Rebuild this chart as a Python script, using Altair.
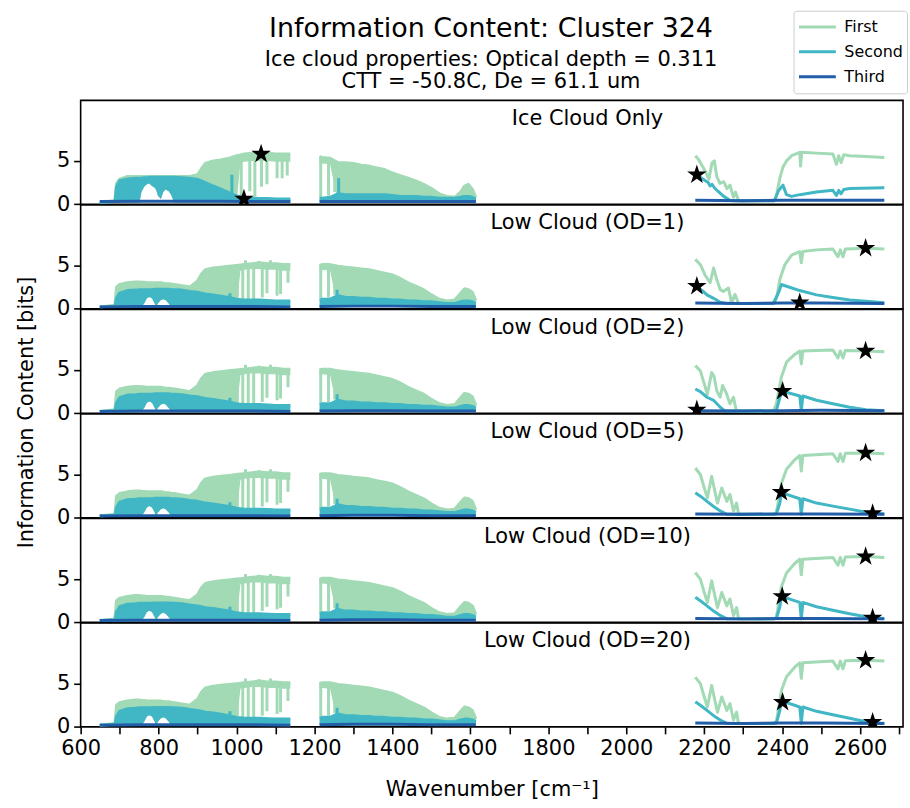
import altair as alt
import pandas as pd

PANELS = ["Ice Cloud Only", "Low Cloud (OD=1)", "Low Cloud (OD=2)",
          "Low Cloud (OD=5)", "Low Cloud (OD=10)", "Low Cloud (OD=20)"]
SERIES = ["First", "Second", "Third"]
COLORS = ["#a1dab4", "#41b6c4", "#225ea8"]

# ---------------- band 1 (650-1140 cm-1) ----------------
G1 = [649, 688, 692, 700, 720, 740, 751, 756, 763, 770, 776, 783, 790, 794, 798, 806, 812, 818, 826, 832,
      840, 860, 880, 900, 910, 920, 940, 960, 980, 1000, 1010, 1020, 1040, 1060, 1080, 1100, 1120, 1138]

ICE_G1_HI = [0.2, 0.4, 2.4, 2.9, 3.2, 3.2, 3.2, 3.2, 3.2, 3.2, 3.2, 3.2, 3.2, 3.2, 3.2, 3.2, 3.2, 3.2, 3.2, 3.2,
             3.2, 3.2, 3.2, 3.4, 4.1, 4.7, 5.0, 5.1, 5.3, 5.6, 5.7, 5.8, 5.9, 5.9, 5.9, 5.8, 5.8, 5.8]
ICE_FLOOR = [0.2, 0.2, 0.2, 0.2, 0.2, 0.2, 0.2, 1.4, 2.0, 2.3, 2.4, 2.1, 1.9, 1.6, 1.0, 0.6, 1.4, 1.7, 1.5, 1.1,
             0.2, 0.2, 0.2, 0.2, 0.2, 0.2, 0.2, 0.2, 0.2, 0.2, 0.2, 0.2, 0.2, 0.2, 0.2, 0.2, 0.2, 0.2]
ICE_G1_LO = [0.2, 0.2, 0.2, 0.2, 0.2, 0.2, 0.2, 1.4, 2.0, 2.3, 2.4, 2.1, 1.9, 1.6, 1.0, 0.6, 1.4, 1.7, 1.5, 1.1,
             0.2, 0.2, 0.2, 0.2, 0.2, 0.2, 0.2, 0.2, 0.2, 0.2, 4.8, 4.9, 5.0, 5.0, 5.0, 4.9, 4.9, 4.9]
ICE_C1_HI = [0.2, 0.3, 2.0, 2.7, 2.9, 3.0, 3.0, 3.0, 3.05, 3.05, 3.1, 3.1, 3.1, 3.1, 3.1, 3.1, 3.1, 3.1, 3.1, 3.1,
             3.1, 3.05, 3.0, 2.85, 2.7, 2.5, 2.1, 1.75, 1.35, 0.95, 0.85, 0.75, 0.7, 0.65, 0.65, 0.6, 0.6, 0.6]

LOW_G1_HI = [0.2, 0.4, 2.5, 2.8, 3.0, 3.1, 3.1, 3.05, 3.05, 3.0, 3.0, 3.0, 3.0, 3.0, 3.0, 3.0, 2.95, 2.9, 2.9, 2.85,
             2.8, 2.65, 2.5, 3.2, 4.0, 4.5, 4.7, 4.8, 4.9, 5.0, 5.05, 5.1, 5.2, 5.3, 5.2, 5.2, 5.1, 5.1]
LOW_FLOOR = [0.2, 0.2, 0.2, 0.2, 0.2, 0.2, 0.2, 0.2, 0.6, 1.2, 1.35, 1.2, 0.6, 0.2, 0.6, 1.0, 1.1, 1.0, 0.6, 0.2,
             0.2, 0.2, 0.2, 0.2, 0.2, 0.2, 0.2, 0.2, 0.2, 0.2, 0.2, 0.2, 0.2, 0.2, 0.2, 0.2, 0.2, 0.2]
LOW_G1_LO = [0.2, 0.2, 0.2, 0.2, 0.2, 0.2, 0.2, 0.2, 0.6, 1.2, 1.35, 1.2, 0.6, 0.2, 0.6, 1.0, 1.1, 1.0, 0.6, 0.2,
             0.2, 0.2, 0.2, 0.2, 0.2, 0.2, 0.2, 0.2, 0.2, 0.2, 4.4, 4.5, 4.6, 4.6, 4.5, 4.5, 4.4, 4.4]
LOW_C1_HI = [0.2, 0.3, 1.2, 1.8, 2.1, 2.15, 2.2, 2.2, 2.2, 2.2, 2.2, 2.2, 2.25, 2.25, 2.25, 2.25, 2.25, 2.25, 2.25, 2.2,
             2.2, 2.15, 2.0, 1.9, 1.8, 1.7, 1.6, 1.45, 1.3, 1.1, 1.05, 1.0, 1.0, 1.0, 0.95, 0.9, 0.9, 0.9]

# ---------------- band 2 (1215-1615 cm-1) ----------------
G2 = [1213, 1220, 1240, 1260, 1280, 1300, 1320, 1340, 1360, 1380, 1400, 1420, 1440, 1460, 1480, 1500,
      1520, 1540, 1560, 1575, 1585, 1595, 1605, 1614]
G2_FLOOR = [0.2, 0.2, 0.2, 0.2, 0.2, 0.2, 0.2, 0.2, 0.2, 0.2, 0.2, 0.2, 0.2, 0.2, 0.2, 0.2,
            0.2, 0.2, 0.2, 0.2, 0.2, 0.2, 0.2, 0.2]
ICE_G2_HI = [5.5, 5.4, 5.3, 4.8, 4.8, 4.7, 4.5, 4.4, 4.2, 4.0, 3.6, 3.3, 3.0, 2.7, 2.3, 1.8,
             1.2, 0.9, 0.8, 1.4, 2.1, 2.3, 1.7, 0.8]
ICE_G2_LO = [4.8, 4.7, 4.6, 0.2, 0.2, 0.2, 0.2, 0.2, 0.2, 0.2, 0.2, 0.2, 0.2, 0.2, 0.2, 0.2,
             0.2, 0.2, 0.2, 0.2, 0.2, 0.2, 0.2, 0.2]
ICE_C2_HI = [0.7, 0.7, 0.8, 1.2, 1.1, 1.1, 1.1, 1.1, 1.1, 1.1, 1.0, 0.9, 0.9, 0.9, 0.8, 0.8,
             0.7, 0.7, 0.7, 0.8, 0.9, 0.9, 0.8, 0.6]
LOW_G2_HI = [5.0, 5.1, 5.1, 4.9, 4.8, 4.7, 4.6, 4.5, 4.3, 4.1, 3.9, 3.5, 3.0, 2.6, 2.2, 1.6,
             1.1, 0.9, 1.0, 1.8, 2.3, 2.2, 1.9, 0.9]
LOW_G2_LO = [4.4, 4.5, 4.4, 0.2, 0.2, 0.2, 0.2, 0.2, 0.2, 0.2, 0.2, 0.2, 0.2, 0.2, 0.2, 0.2,
             0.2, 0.2, 0.2, 0.2, 0.2, 0.2, 0.2, 0.2]
LOW_C2_HI = [1.0, 1.1, 1.1, 1.5, 1.3, 1.3, 1.2, 1.2, 1.1, 1.1, 1.0, 1.0, 0.9, 0.9, 0.8, 0.8,
             0.7, 0.6, 0.6, 0.8, 0.9, 0.9, 0.8, 0.6]

# ---------------- narrow channel spikes ----------------
ICE_GSPK_WN = [998, 1012, 1034, 1047, 1064, 1078, 1104, 1117, 1130, 1216, 1236, 1252]
ICE_GSPK_LO = [0.8, 0.5, 1.5, 0.9, 2.0, 2.3, 3.0, 3.0, 3.3, 0.8, 1.0, 1.4]
ICE_GSPK_HI = [5.6, 5.7, 5.85, 5.9, 5.9, 5.9, 5.8, 5.8, 5.8, 5.5, 5.3, 5.0]
LOW_GSPK_WN = [951, 984, 1002, 1016, 1023, 1030, 1044, 1057, 1066, 1078, 1087, 1104, 1113, 1132, 1216, 1236, 1252]
LOW_GSPK_LO = [1.3, 1.1, 0.7, 1.1, 5.0, 0.7, 1.1, 5.0, 1.3, 1.8, 5.0, 1.5, 1.7, 3.0, 1.2, 1.3, 1.6]
LOW_GSPK_HI = [4.8, 4.9, 5.0, 5.1, 5.6, 5.15, 5.2, 5.5, 5.3, 5.25, 5.6, 5.2, 5.15, 5.1, 5.1, 5.1, 5.0]
ICE_CSPK_WN = [988, 1262]
ICE_CSPK_LO = [1.3, 0.8]
ICE_CSPK_HI = [3.4, 3.0]
LOW_CSPK_WN = [983, 1258]
LOW_CSPK_LO = [1.2, 1.1]
LOW_CSPK_HI = [1.8, 2.2]

# ---------------- third mode, bands 1 and 2 ----------------
T1_WN = [649, 750, 850, 950, 1050, 1138]
ICE_T1 = [0.3, 0.35, 0.35, 0.35, 0.3, 0.3]
LOW_T1 = [0.2, 0.25, 0.25, 0.25, 0.25, 0.2]
T2_WN = [1213, 1300, 1400, 1500, 1614]
ICE_T2 = [0.3, 0.3, 0.3, 0.3, 0.3]
LOW_T2 = [0.25, 0.3, 0.3, 0.25, 0.25]

# ---------------- band 3 (2175-2665 cm-1), one set per panel ----------------
GR_WN_1 = [2177, 2185, 2195, 2205, 2212, 2220, 2226, 2232, 2240, 2250, 2258, 2266, 2275, 2280, 2288, 2380, 2385,
           2394, 2402, 2411, 2424, 2445, 2447, 2450, 2488, 2530, 2539, 2545, 2551, 2558, 2573, 2615, 2662]
GR_V_1 = [5.6, 5.2, 4.4, 3.6, 2.9, 4.8, 5.0, 3.2, 2.4, 2.6, 1.8, 2.2, 0.8, 1.4, 0.4, 0.4, 1.0,
          3.0, 4.3, 5.0, 5.6, 6.0, 4.4, 6.0, 5.9, 5.8, 4.6, 5.6, 4.8, 5.7, 5.6, 5.5, 5.4]
CR_WN_1 = [2181, 2190, 2200, 2210, 2215, 2220, 2226, 2235, 2250, 2266, 2275, 2380, 2390, 2402, 2411, 2424, 2445,
           2488, 2530, 2539, 2545, 2551, 2558, 2573, 2662]
CR_V_1 = [3.5, 3.1, 2.8, 2.5, 2.1, 2.3, 1.9, 1.5, 0.9, 0.45, 0.4, 0.4, 1.5, 2.2, 1.1, 0.9, 1.1,
          1.4, 1.6, 1.0, 1.6, 1.2, 1.7, 1.8, 1.9]

GR_WN_2 = [2177, 2190, 2202, 2215, 2224, 2232, 2241, 2249, 2262, 2270, 2279, 2288, 2377, 2385, 2394, 2407, 2424,
           2445, 2449, 2453, 2488, 2530, 2543, 2549, 2556, 2562, 2615, 2662]
GR_V_2 = [5.7, 5.1, 3.9, 3.0, 4.7, 3.4, 2.2, 2.0, 2.4, 0.7, 1.65, 0.6, 0.6, 1.1, 3.4, 5.1, 6.2,
          6.6, 5.3, 6.6, 6.8, 6.9, 6.0, 6.8, 6.0, 6.9, 7.0, 6.9]
CR_WN_2 = [2181, 2195, 2207, 2224, 2241, 2258, 2275, 2377, 2390, 2398, 2411, 2445, 2488, 2530, 2573, 2615, 2662]
CR_V_2 = [2.6, 2.1, 1.6, 1.2, 0.75, 0.6, 0.6, 0.6, 1.8, 2.8, 2.6, 2.1, 1.6, 1.3, 1.0, 0.85, 0.7]

GR_WN_3 = [2177, 2190, 2200, 2208, 2219, 2225, 2232, 2241, 2247, 2256, 2266, 2275, 2282, 2288, 2377, 2385, 2398,
           2411, 2432, 2445, 2449, 2453, 2488, 2530, 2543, 2549, 2556, 2562, 2615, 2662]
GR_V_3 = [5.5, 4.9, 3.4, 2.2, 4.7, 4.3, 2.6, 1.85, 3.2, 2.4, 1.1, 1.85, 0.3, 0.25, 0.25, 1.1, 4.2,
          5.9, 6.8, 7.2, 5.7, 7.2, 7.25, 7.3, 6.4, 7.2, 6.4, 7.25, 7.2, 7.1]
CR_WN_3 = [2177, 2190, 2207, 2224, 2241, 2254, 2377, 2385, 2394, 2401, 2445, 2449, 2453, 2488, 2530, 2573, 2615, 2662]
CR_V_3 = [2.8, 2.5, 1.85, 1.5, 0.7, 0.25, 0.25, 0.3, 1.85, 2.55, 2.0, 0.3, 2.0, 1.5, 1.1, 0.7, 0.4, 0.3]

GR_WN_456 = [2177, 2190, 2200, 2208, 2219, 2228, 2234, 2245, 2258, 2266, 2275, 2283, 2288, 2377, 2385, 2398, 2411,
             2432, 2445, 2449, 2453, 2530, 2543, 2549, 2556, 2562, 2615, 2662]
GR_V_4 = [5.75, 5.0, 3.45, 2.3, 4.8, 2.9, 1.7, 3.45, 1.9, 2.7, 0.8, 1.7, 0.4, 0.4, 0.6, 4.0, 5.6,
          6.7, 7.2, 5.4, 7.2, 7.4, 6.5, 7.4, 6.5, 7.45, 7.5, 7.4]
GR_V_5 = [5.75, 5.0, 3.45, 2.3, 4.8, 2.9, 1.7, 3.45, 1.9, 2.7, 0.8, 1.7, 0.4, 0.4, 0.6, 4.1, 5.7,
          6.8, 7.3, 5.5, 7.3, 7.5, 6.6, 7.5, 6.6, 7.55, 7.6, 7.5]
GR_V_6 = [5.75, 5.0, 3.45, 2.3, 4.8, 2.9, 1.7, 3.45, 1.9, 2.7, 0.8, 1.7, 0.4, 0.4, 0.6, 4.2, 5.8,
          6.9, 7.4, 5.6, 7.4, 7.6, 6.7, 7.6, 6.7, 7.65, 7.7, 7.6]
CR_WN_456 = [2177, 2190, 2207, 2224, 2241, 2258, 2377, 2385, 2394, 2398, 2445, 2449, 2453, 2488, 2530, 2573, 2615, 2662]
CR_V_4 = [2.9, 2.5, 1.9, 1.3, 0.8, 0.4, 0.4, 0.45, 1.7, 2.9, 2.2, 0.4, 2.2, 1.7, 1.35, 1.0, 0.65, 0.45]
CR_V_5 = [2.9, 2.5, 1.9, 1.3, 0.8, 0.4, 0.4, 0.45, 1.8, 3.0, 2.3, 0.4, 2.3, 1.8, 1.4, 1.0, 0.65, 0.45]
CR_V_6 = [2.9, 2.5, 1.9, 1.3, 0.8, 0.4, 0.4, 0.45, 1.9, 3.0, 2.3, 0.4, 2.3, 1.8, 1.4, 1.0, 0.6, 0.4]

TR_WN = [2177, 2300, 2400, 2500, 2662]
TR_V_1 = [0.45, 0.4, 0.45, 0.45, 0.45]
TR_V_2 = [0.65, 0.6, 0.65, 0.65, 0.6]
TR_V_3 = [0.3, 0.25, 0.3, 0.35, 0.3]
TR_V_4 = [0.45, 0.4, 0.45, 0.45, 0.4]
TR_V_5 = [0.45, 0.4, 0.45, 0.45, 0.4]
TR_V_6 = [0.45, 0.4, 0.45, 0.45, 0.4]

# ---------------- maxima markers ----------------
STAR_WN = [[1063, 1019, 2181], [2181, 2445, 2614], [2181, 2401, 2614],
           [2398, 2614, 2632], [2400, 2614, 2632], [2401, 2614, 2632]]
STAR_V = [[5.8, 0.6, 3.4], [2.6, 0.7, 7.0], [0.4, 2.55, 7.2],
          [2.95, 7.5, 0.5], [3.0, 7.6, 0.5], [2.85, 7.7, 0.55]]

TITLE = "Information Content: Cluster 324"
SUBTITLE = ["Ice cloud properties: Optical depth = 0.311", "CTT = -50.8C, De = 61.1 um"]

# ---------------- assemble ----------------
VARIANTS = {
    "ice": dict(g1_hi=ICE_G1_HI, g1_lo=ICE_G1_LO, floor=ICE_FLOOR, c1_hi=ICE_C1_HI,
                g2_hi=ICE_G2_HI, g2_lo=ICE_G2_LO, c2_hi=ICE_C2_HI,
                gs=(ICE_GSPK_WN, ICE_GSPK_LO, ICE_GSPK_HI), cs=(ICE_CSPK_WN, ICE_CSPK_LO, ICE_CSPK_HI),
                t1=ICE_T1, t2=ICE_T2),
    "low": dict(g1_hi=LOW_G1_HI, g1_lo=LOW_G1_LO, floor=LOW_FLOOR, c1_hi=LOW_C1_HI,
                g2_hi=LOW_G2_HI, g2_lo=LOW_G2_LO, c2_hi=LOW_C2_HI,
                gs=(LOW_GSPK_WN, LOW_GSPK_LO, LOW_GSPK_HI), cs=(LOW_CSPK_WN, LOW_CSPK_LO, LOW_CSPK_HI),
                t1=LOW_T1, t2=LOW_T2),
}
RIGHT = [
    (GR_WN_1, GR_V_1, CR_WN_1, CR_V_1, TR_V_1),
    (GR_WN_2, GR_V_2, CR_WN_2, CR_V_2, TR_V_2),
    (GR_WN_3, GR_V_3, CR_WN_3, CR_V_3, TR_V_3),
    (GR_WN_456, GR_V_4, CR_WN_456, CR_V_4, TR_V_4),
    (GR_WN_456, GR_V_5, CR_WN_456, CR_V_5, TR_V_5),
    (GR_WN_456, GR_V_6, CR_WN_456, CR_V_6, TR_V_6),
]

FONT = "DejaVu Sans"
STAR_PATH = ("M0,-1L0.2245,-0.309L0.951,-0.309L0.363,0.118L0.588,0.809L0,0.382"
             "L-0.588,0.809L-0.363,0.118L-0.951,-0.309L-0.2245,-0.309Z")
W, H = 826, 104.3
X_SCALE = alt.Scale(domain=[600, 2710], nice=False, zero=False)
Y_SCALE = alt.Scale(domain=[0, 12], nice=False, zero=False)
C_SCALE = alt.Scale(domain=SERIES, range=COLORS)
LEGEND = alt.Legend(title=None, orient="none", legendX=716, legendY=-90, direction="vertical",
                    symbolType="stroke", symbolStrokeWidth=3, symbolSize=1369, clipHeight=24.5,
                    rowPadding=0, labelFontSize=16, labelFont=FONT, labelColor="black", labelOffset=7,
                    padding=4, strokeColor="#cccccc", fillColor="white", cornerRadius=3)


def lines_df(rows):
    recs = []
    for series, seg, wn, vals in rows:
        for w, v in zip(wn, vals):
            recs.append({"series": series, "seg": seg, "wn": w, "v": v})
    return pd.DataFrame(recs)


def band_df(segs):
    recs = []
    for seg, wn, lo, hi in segs:
        for w, a, b in zip(wn, lo, hi):
            recs.append({"seg": seg, "wn": w, "lo": a, "hi": b})
    return pd.DataFrame(recs)


panels = []
for i, name in enumerate(PANELS):
    d = VARIANTS["ice" if i == 0 else "low"]
    gwn, gv, cwn, cv, tv = RIGHT[i]

    if i == 5:
        xaxis = alt.Axis(values=list(range(600, 2701, 100)), format="d", labelFlush=False,
                         labelExpr="datum.value % 200 == 0 ? datum.label : ''",
                         title="Wavenumber [cm⁻¹]", titleFontSize=21, titleFontWeight="normal",
                         titleColor="black", titlePadding=20)
    else:
        xaxis = None
    if i == 0:
        yaxis = alt.Axis(values=[0, 5], title="Information Content [bits]", titleFontSize=21,
                         titleFontWeight="normal", titleColor="black", titleY=313, titlePadding=20)
    else:
        yaxis = alt.Axis(values=[0, 5], title=None)

    X = alt.X("wn:Q", scale=X_SCALE, axis=xaxis)

    def area_layer(df, color):
        return alt.Chart(df).mark_area(color=color, opacity=1, clip=True).encode(
            x=X, y=alt.Y("lo:Q", scale=Y_SCALE, axis=yaxis), y2="hi:Q", detail="seg:N")

    def line_layer(df):
        return alt.Chart(df).mark_line(strokeWidth=3, strokeJoin="round", clip=True).encode(
            x=X, y=alt.Y("v:Q", scale=Y_SCALE, axis=yaxis),
            color=alt.Color("series:N", scale=C_SCALE, legend=LEGEND), detail="seg:N")

    def spike_layer(spk, color):
        df = pd.DataFrame({"wn": spk[0], "lo": spk[1], "hi": spk[2]})
        return alt.Chart(df).mark_rule(color=color, strokeWidth=3, clip=True).encode(
            x=X, y=alt.Y("lo:Q", scale=Y_SCALE, axis=yaxis), y2="hi:Q")

    g_area = band_df([("b1", G1, d["g1_lo"], d["g1_hi"]), ("b2", G2, d["g2_lo"], d["g2_hi"])])
    c_area = band_df([("b1", G1, d["floor"], d["c1_hi"]), ("b2", G2, G2_FLOOR, d["c2_hi"])])
    g_line = lines_df([("First", "b1", G1, d["g1_hi"]), ("First", "b2", G2, d["g2_hi"]),
                       ("First", "b3", gwn, gv)])
    c_line = lines_df([("Second", "b1", G1, d["c1_hi"]), ("Second", "b2", G2, d["c2_hi"]),
                       ("Second", "b3", cwn, cv)])
    t_line = lines_df([("Third", "b1", T1_WN, d["t1"]), ("Third", "b2", T2_WN, d["t2"]),
                       ("Third", "b3", TR_WN, tv)])
    stars = pd.DataFrame({"wn": STAR_WN[i], "v": STAR_V[i]})
    label = pd.DataFrame({"t": [name]})

    layers = [
        area_layer(g_area, COLORS[0]),
        line_layer(g_line),
        spike_layer(d["gs"], COLORS[0]),
        area_layer(c_area, COLORS[1]),
        line_layer(c_line),
        spike_layer(d["cs"], COLORS[1]),
        line_layer(t_line),
        alt.Chart(stars).mark_point(shape=STAR_PATH, filled=True, color="black", size=420,
                                    opacity=1, clip=True).encode(
            x=X, y=alt.Y("v:Q", scale=Y_SCALE, axis=yaxis)),
        alt.Chart(label).mark_text(fontSize=21, font=FONT, color="black", align="center",
                                   baseline="middle").encode(
            text="t:N", x=alt.value(509), y=alt.value(18.5)),
    ]
    panels.append(alt.layer(*layers).properties(width=W, height=H))

chart = alt.vconcat(*panels, spacing=0, bounds="flush").properties(
    title=alt.TitleParams(text=TITLE, subtitle=SUBTITLE, fontSize=27, subtitleFontSize=21,
                          subtitleLineHeight=22, font=FONT, subtitleFont=FONT, fontWeight="normal",
                          color="black", subtitleColor="black", anchor="middle", offset=-83,
                          subtitlePadding=6, dx=30),
    padding={"left": 14, "top": 8, "right": 2, "bottom": 5},
).configure(font=FONT).configure_view(stroke="black", strokeWidth=1.6).configure_axis(
    labelFontSize=21, labelFont=FONT, labelColor="black", tickColor="black", tickWidth=1.6,
    tickSize=7, domain=False, grid=False, labelPadding=4, titleFont=FONT)

chart.save("out.html", embed_options={"renderer": "svg", "actions": False})
